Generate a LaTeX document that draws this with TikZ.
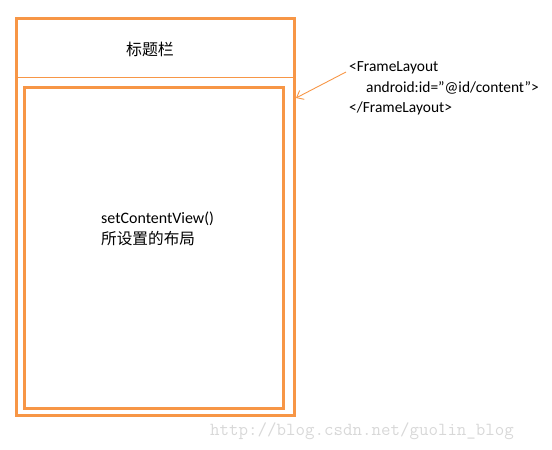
\documentclass[tikz,border=0pt]{standalone}
\usepackage{fontspec}
\setmainfont{Carlito}
\newfontfamily\cjk{Noto Sans CJK SC}
\usetikzlibrary{arrows.meta}
\definecolor{frameOrange}{HTML}{F79646}
\definecolor{markGrey}{HTML}{D8D8D8}

\begin{document}
\begin{tikzpicture}[
  x=1bp, y=-1bp,
  font=\fontsize{15.5}{21}\selectfont,
  frame/.style={rectangle, draw=frameOrange, line width=3bp,
                inner sep=0pt, outer sep=0pt},
  divider/.style={draw=frameOrange, line width=0.9bp},
  pointer/.style={-{Straight Barb[length=6bp,width=10bp]}, line width=0.9bp,
                  draw=frameOrange},
  lbl/.style={align=left, inner sep=0pt, text=black},
  watermark/.style={font=\ttfamily\fontsize{18.5}{18.5}\selectfont, text=markGrey,
               inner sep=0pt},
]
\useasboundingbox (0,0) rectangle (552,450);

% =============================== nodes =====================================
\node[frame, minimum width=277.5bp, minimum height=396.5bp]
  at (155.25,217.25) (outer) {};

\node[frame, minimum width=258.5bp, minimum height=320bp]
  at (153.75,248) (inner) {};

\node[lbl, font=\cjk\fontsize{16}{16}\selectfont] at (150,49) (title) {标题栏};

% base anchor sits on the last line
\node[lbl, anchor=base west, font=\fontsize{16}{21.5}\selectfont]
  at (101,245) (content)
  {setContentView()\\{\cjk\fontsize{15.7}{21.5}\selectfont 所设置的布局}};

\node[lbl, anchor=base west] at (349,113) (code)
  {<FrameLayout\\\hspace{17bp}android:id=”@id/content”>\\</FrameLayout>};

\node[watermark, anchor=west] at (210,431) (url) {http://blog.csdn.net/guolin\_blog};

\coordinate (arrowStart) at (346,72);
\coordinate (arrowTip)   at (296,98);

% =============================== lines =====================================
% title bar divider
\draw[divider] ([yshift=-58bp]outer.north west) -- ([yshift=-58bp]outer.north east);

% code -> content frame
\draw[pointer] (arrowStart) -- (arrowTip);

\end{tikzpicture}
\end{document}
